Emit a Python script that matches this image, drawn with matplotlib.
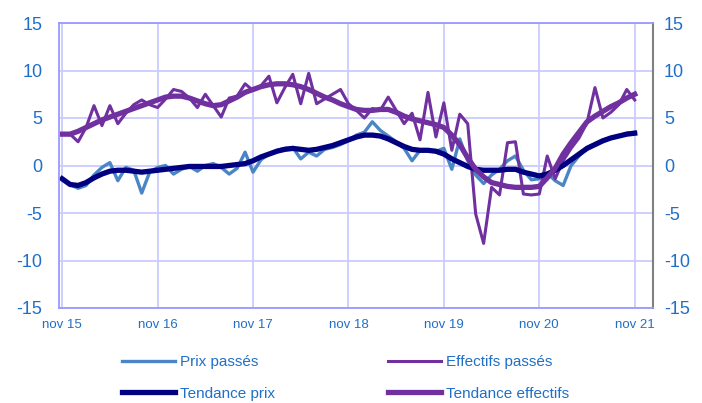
import numpy as np
import matplotlib
matplotlib.use('Agg')
import matplotlib.pyplot as plt

plt.rcParams['font.family'] = ['Liberation Sans', 'DejaVu Sans']
plt.rcParams['axes.unicode_minus'] = False

# mois de nov 15 a nov 21
tick_labels = ['nov 15', 'nov 16', 'nov 17', 'nov 18', 'nov 19', 'nov 20', 'nov 21']

prix_passes = [-1.4, -2.0, -2.4, -2.1, -1.0, -0.2, 0.3, -1.6, -0.2, -0.5, -2.9, -0.7,
               -0.2, 0.0, -0.9, -0.4, -0.1, -0.6, 0.0, 0.2, -0.2, -0.9, -0.3, 1.4,
               -0.7, 0.6, 1.2, 1.6, 1.8, 1.9, 0.7, 1.4, 1.0, 1.7, 1.9, 2.2,
               2.6, 3.2, 3.5, 4.6, 3.7, 3.1, 2.5, 1.8, 0.5, 1.6, 1.6, 1.5,
               1.8, -0.4, 2.8, 0.5, -1.0, -1.9, -1.0, -0.4, 0.5, 1.0, -0.5, -1.5,
               -1.4, -0.8, -1.6, -2.1, 0.0, 1.0, 1.9, 2.3, 2.7, 2.9, 3.1, 3.4,
               3.5]

tendance_prix = [-1.4, -2.0, -2.1, -1.8, -1.3, -0.9, -0.6, -0.5, -0.5, -0.6, -0.7, -0.6,
                 -0.5, -0.4, -0.3, -0.2, -0.1, -0.1, -0.1, -0.1, -0.1, 0.0, 0.1, 0.2,
                 0.5, 0.9, 1.2, 1.5, 1.7, 1.8, 1.7, 1.6, 1.7, 1.9, 2.1, 2.4,
                 2.7, 3.0, 3.2, 3.2, 3.1, 2.8, 2.4, 2.0, 1.7, 1.6, 1.6, 1.5,
                 1.2, 0.7, 0.3, -0.1, -0.4, -0.5, -0.5, -0.5, -0.4, -0.4, -0.7, -0.9,
                 -1.1, -0.9, -0.5, 0.0, 0.6, 1.2, 1.8, 2.2, 2.6, 2.9, 3.1, 3.3,
                 3.4]

effectifs_passes = [3.3, 3.3, 2.5, 4.0, 6.3, 4.2, 6.3, 4.4, 5.5, 6.4, 6.9, 6.4,
                    6.1, 7.0, 8.0, 7.8, 7.1, 6.1, 7.5, 6.3, 5.1, 7.1, 7.3, 8.6,
                    7.9, 8.4, 9.4, 6.6, 8.2, 9.6, 6.5, 9.7, 6.5, 7.0, 7.5, 8.0,
                    6.5, 5.8, 5.0, 6.0, 5.8, 7.2, 5.8, 4.4, 5.5, 2.7, 7.7, 3.0,
                    6.6, 1.6, 5.4, 4.4, -5.1, -8.2, -2.3, -3.1, 2.4, 2.5, -3.0, -3.1,
                    -3.0, 1.0, -1.4, 0.5, 1.8, 2.9, 4.5, 8.2, 5.0, 5.6, 6.4, 8.0,
                    6.9]

tendance_effectifs = [3.3, 3.3, 3.6, 4.0, 4.4, 4.8, 5.1, 5.4, 5.7, 6.0, 6.3, 6.6,
                      6.9, 7.2, 7.3, 7.3, 7.1, 6.8, 6.5, 6.3, 6.4, 6.8, 7.2, 7.7,
                      8.0, 8.3, 8.5, 8.6, 8.6, 8.5, 8.3, 8.0, 7.6, 7.2, 6.9, 6.5,
                      6.2, 5.9, 5.8, 5.8, 5.9, 5.9, 5.6, 5.2, 4.9, 4.7, 4.5, 4.3,
                      4.0, 3.2, 2.2, 0.8, -0.4, -1.2, -1.8, -2.0, -2.2, -2.3, -2.3, -2.3,
                      -2.2, -1.3, -0.3, 1.2, 2.4, 3.5, 4.6, 5.2, 5.7, 6.2, 6.6, 7.1,
                      7.5]

x = np.arange(len(prix_passes))
txt_col = '#1F6FC8'
yticks = np.arange(-15, 16, 5)

fig = plt.figure(figsize=(7.02, 4.03), dpi=100)
ax = fig.add_axes([59/702, 1 - 308/403, (653 - 59)/702, (308 - 23)/403])

l1, = ax.plot(x, prix_passes, color='#4A86C5', lw=2.4, label='Prix passés')
l3, = ax.plot(x, effectifs_passes, color='#7030A0', lw=2.2, label='Effectifs passés')
l2, = ax.plot(x, tendance_prix, color='#000080', lw=3.8, label='Tendance prix')
l4, = ax.plot(x, tendance_effectifs, color='#7030A0', lw=3.8, label='Tendance effectifs')

ax.set_xlim(-0.4, 74.3)
ax.set_ylim(-15, 15)
ax.set_yticks(yticks)
ax.set_xticks(np.arange(0, 73, 12))
ax.set_xticklabels(tick_labels)
ax.grid(True, color='#CCCCFF', lw=1.3)
ax.set_axisbelow(True)

for s in ['left', 'bottom', 'top']:
    ax.spines[s].set_color('#9999FF')
    ax.spines[s].set_linewidth(1.3)
ax.spines['right'].set_color('#808080')
ax.spines['right'].set_linewidth(1.5)

ax.tick_params(axis='x', length=0, pad=8, labelsize=9.5, labelcolor=txt_col)
ax.tick_params(axis='y', length=0, pad=12, labelsize=13, labelcolor=txt_col)

# axe de droite (memes graduations)
ax2 = ax.twinx()
ax2.set_ylim(-15, 15)
ax2.set_yticks(yticks)
ax2.tick_params(axis='y', length=0, pad=8, labelsize=13, labelcolor=txt_col)
for s in ax2.spines.values():
    s.set_visible(False)

fig.legend(handles=[l1, l2, l3, l4], ncol=2, frameon=False,
           loc='center left', bbox_to_anchor=(122/702, 1 - 378/403),
           fontsize=11, labelcolor=txt_col, handlelength=3.45, handletextpad=0.33,
           columnspacing=7.4, labelspacing=1.15, borderpad=0, borderaxespad=0)

fig.savefig('out.png', dpi=100)
